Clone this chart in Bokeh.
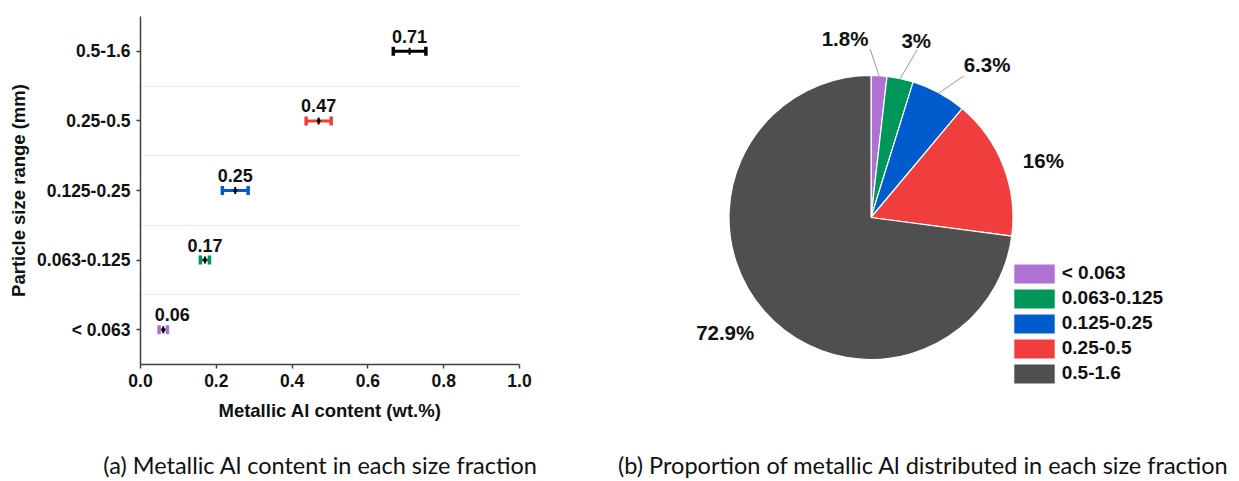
import numpy as np
from bokeh.plotting import figure
from bokeh.layouts import row, column
from bokeh.models import (ColumnDataSource, Range1d, FixedTicker, Legend,
                          LegendItem, PrintfTickFormatter)
from bokeh.core.properties import value
from bokeh.embed import file_html
from bokeh.resources import INLINE

# ---------------- data ----------------
size_ranges = ["< 0.063", "0.063-0.125", "0.125-0.25", "0.25-0.5", "0.5-1.6"]
al_content = [0.06, 0.17, 0.25, 0.47, 0.71]          # wt.%
al_error = [0.011, 0.012, 0.034, 0.033, 0.043]        # +/- wt.%
al_share = [1.8, 3.0, 6.3, 16.0, 72.9]                # % of metallic Al
share_labels = ["1.8%", "3%", "6.3%", "16%", "72.9%"]
x_ticks = [0.0, 0.2, 0.4, 0.6, 0.8, 1.0]
captions = ["(a) Metallic Al content in each size fraction",
            "(b) Proportion of metallic Al distributed in each size fraction"]

# ---------------- styles ----------------
FONT = "Liberation Sans"
CAP_FONT = "Lato"
slice_colors = ["#B072D2", "#00965A", "#005BCC", "#F03E3E", "#4F4F4F"]
bar_colors = ["#B072D2", "#00965A", "#005BCC", "#F03E3E", "#000000"]
value_dx = [9, 0, 0, 0, 0]
# label nudges relative to slice edge (screen px, y down)
lab_dx = [-34, 16, 48, 40, -39]
lab_dy = [-37, -38, -28, -6, 21]
lead_dx = [-9, 17, 25, 0, 0]
lead_dy = [-27, -29, -17, 0, 0]
has_leader = [True, True, True, False, False]
cap_x = [320.0, 923.0]


def no_align(fig):
    if "frame_align" in fig.properties():
        fig.frame_align = False


# ---------------- left panel ----------------
ypos = [i + 0.5 for i in range(len(size_ranges))]
src1 = ColumnDataSource(dict(
    y=ypos, x=al_content,
    lo=[v - e for v, e in zip(al_content, al_error)],
    hi=[v + e for v, e in zip(al_content, al_error)],
    color=bar_colors, label=[f"{v:.2f}" for v in al_content], dx=value_dx))

p1 = figure(frame_width=379, frame_height=348, output_backend="svg", toolbar_location=None,
            x_range=Range1d(0, 1.0), y_range=Range1d(0, len(size_ranges)),
            min_border_left=140, min_border_right=81, min_border_top=16, min_border_bottom=77)
no_align(p1)
p1.outline_line_color = None
p1.xgrid.visible = False
p1.ygrid.ticker = FixedTicker(ticks=[1, 2, 3, 4])
p1.ygrid.grid_line_color = "#d8d8d8"
p1.ygrid.grid_line_dash = "2 2"
p1.ygrid.grid_line_width = 1

p1.xaxis.ticker = FixedTicker(ticks=x_ticks)
p1.xaxis.formatter = PrintfTickFormatter(format="%.1f")
p1.yaxis.ticker = FixedTicker(ticks=ypos)
p1.yaxis.major_label_overrides = {y: s for y, s in zip(ypos, size_ranges)}
p1.xaxis.axis_label = "Metallic Al content (wt.%)"
p1.yaxis.axis_label = "Particle size range (mm)"
for ax in p1.axis:
    ax.axis_line_color = "#404040"
    ax.axis_line_width = 1.5
    ax.major_tick_line_color = "#404040"
    ax.major_tick_line_width = 1.5
    ax.major_tick_out = 4
    ax.major_tick_in = 0
    ax.minor_tick_out = 0
    ax.minor_tick_in = 0
    ax.major_label_text_font = FONT
    ax.major_label_text_font_style = "bold"
    ax.major_label_text_font_size = "17.5px"
    ax.major_label_text_color = "#111111"
    ax.axis_label_text_font = FONT
    ax.axis_label_text_font_style = "bold"
    ax.axis_label_text_font_size = "18.5px"
    ax.axis_label_text_color = "#111111"
p1.xaxis.major_label_standoff = 5
p1.xaxis.axis_label_standoff = 10
p1.yaxis.major_label_standoff = 6
p1.yaxis.axis_label_standoff = 5

p1.segment(x0="lo", y0="y", x1="hi", y1="y", line_color="color", line_width=3, source=src1)
for end in ("lo", "hi"):
    p1.scatter(x=end, y="y", marker="dash", angle=np.pi / 2, size=9, line_color="color",
               line_width=3.5, source=src1)
p1.scatter(x="x", y="y", marker="dash", angle=np.pi / 2, size=7, line_color="black",
           line_width=2, source=src1)
p1.scatter(x="x", y="y", marker="circle", size=3, fill_color="black", line_color="black",
           source=src1)
p1.text(x="x", y="y", text="label", x_offset="dx", y_offset=-15, text_align="center",
        text_baseline="middle", text_font=value(FONT), text_font_style="bold",
        text_font_size="18px", text_color="#111111", source=src1)

# ---------------- right panel (pie) ----------------
W2, H2 = 639, 441
cx, cy, R = 270.5, 264.0, 142.0
frac = np.array(al_share) / sum(al_share)
cum = np.concatenate([[0], np.cumsum(frac)])
start = np.pi / 2 - 2 * np.pi * cum[:-1]
end = np.pi / 2 - 2 * np.pi * cum[1:]
mid = (start + end) / 2
ex = cx + R * np.cos(mid)
ey = cy + R * np.sin(mid)

src2 = ColumnDataSource(dict(start=start, end=end, color=slice_colors, name=size_ranges))

p2 = figure(frame_width=W2, frame_height=H2, output_backend="svg", toolbar_location=None,
            x_range=Range1d(0, W2), y_range=Range1d(481 - H2, 481),
            x_axis_location=None, y_axis_location=None,
            min_border_left=0, min_border_right=0, min_border_top=0, min_border_bottom=0)
no_align(p2)
p2.outline_line_color = None
p2.grid.visible = False

wr = p2.wedge(x=cx, y=cy, radius=R, start_angle="start", end_angle="end", direction="clock",
              fill_color="color", line_color="white", line_width=1.2, source=src2)

idx = [i for i in range(len(al_share)) if has_leader[i]]
lsrc = ColumnDataSource(dict(
    x0=[ex[i] for i in idx], y0=[ey[i] for i in idx],
    x1=[ex[i] + lead_dx[i] for i in idx], y1=[ey[i] - lead_dy[i] for i in idx]))
p2.segment(x0="x0", y0="y0", x1="x1", y1="y1", line_color="#9a9a9a", line_width=1, source=lsrc)

tsrc = ColumnDataSource(dict(x=ex, y=ey, text=share_labels, dx=lab_dx, dy=lab_dy))
p2.text(x="x", y="y", text="text", x_offset="dx", y_offset="dy", text_align="center",
        text_baseline="middle", text_font=value(FONT), text_font_style="bold",
        text_font_size="20.5px", text_color="#111111", source=tsrc)

legend = Legend(items=[LegendItem(label=size_ranges[i], renderers=[wr], index=i)
                       for i in range(len(size_ranges))],
                location=(407.75, 55.5), orientation="vertical", padding=0, margin=0, spacing=0,
                glyph_width=52, glyph_height=25, label_height=25, label_standoff=2,
                border_line_color=None, background_fill_alpha=0,
                label_text_font=FONT, label_text_font_style="bold", label_text_font_size="19px",
                label_text_color="#111111")
p2.add_layout(legend)

# ---------------- caption strip ----------------
H3 = 40
p3 = figure(frame_width=1239, frame_height=H3, output_backend="svg", toolbar_location=None,
            x_range=Range1d(0, 1239), y_range=Range1d(0, H3),
            x_axis_location=None, y_axis_location=None,
            min_border_left=0, min_border_right=0, min_border_top=0, min_border_bottom=0)
no_align(p3)
p3.outline_line_color = None
p3.grid.visible = False
p3.text(x=cap_x, y=[17, 17], text=captions, text_align="center", text_baseline="middle",
        text_font=value(CAP_FONT), text_font_size="23.5px", text_color="#111111")

layout = column(row(p1, p2, spacing=0), p3, spacing=0)
open("out.html", "w").write(file_html(layout, INLINE))
